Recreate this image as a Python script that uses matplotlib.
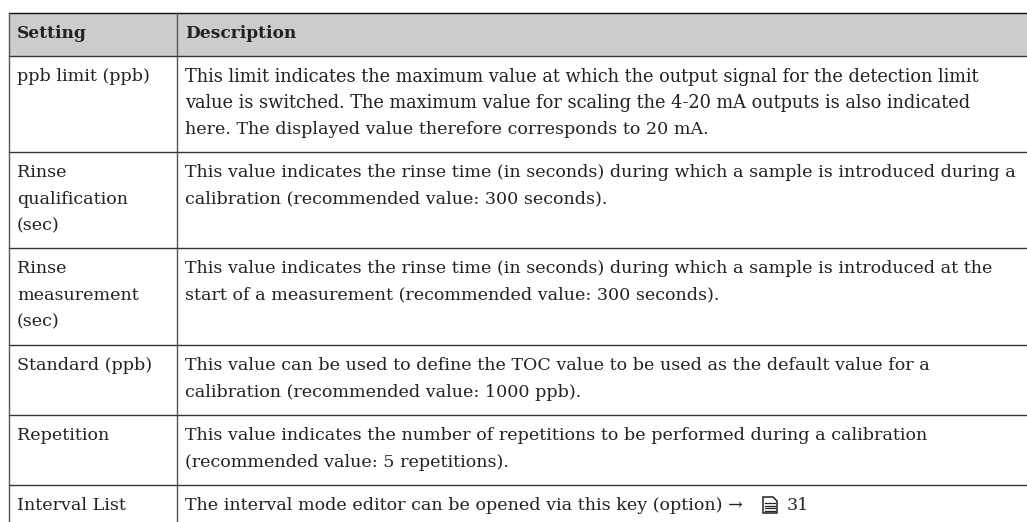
"""Settings table drawn as lines and text on one full-figure axes."""

import matplotlib

matplotlib.use("Agg")
import matplotlib.pyplot as plt
from matplotlib.patches import Polygon

WIDTH, HEIGHT = 1027, 522
SERIF = ["DejaVu Serif"]
TEXT_COLOR = "#222222"

headers = ["Setting", "Description"]
settings = [
    ["ppb limit (ppb)"],
    ["Rinse", "qualification", "(sec)"],
    ["Rinse", "measurement", "(sec)"],
    ["Standard (ppb)"],
    ["Repetition"],
    ["Interval List"],
]
descriptions = [
    [
        "This limit indicates the maximum value at which the output signal for the detection limit",
        "value is switched. The maximum value for scaling the 4-20 mA outputs is also indicated",
        "here. The displayed value therefore corresponds to 20 mA.",
    ],
    [
        "This value indicates the rinse time (in seconds) during which a sample is introduced during a",
        "calibration (recommended value: 300 seconds).",
    ],
    [
        "This value indicates the rinse time (in seconds) during which a sample is introduced at the",
        "start of a measurement (recommended value: 300 seconds).",
    ],
    [
        "This value can be used to define the TOC value to be used as the default value for a",
        "calibration (recommended value: 1000 ppb).",
    ],
    [
        "This value indicates the number of repetitions to be performed during a calibration",
        "(recommended value: 5 repetitions).",
    ],
    ["The interval mode editor can be opened via this key (option) \u2192"],
]
page_ref = "31"
row_lines = [56, 152, 248, 345, 415, 485]

LEFT, MID = 9, 177
TOP = 13
LINE_H = 26.7
FONT_SIZE = 12.6
HEADER_SIZE = 12.25
# the first two description lines run a bit wider in the reference font
WIDE_LINE_SIZE = 12.82


def draw_page_icon(ax, x0, y0, x1, y1):
    # no installed font has the page symbol, so draw it
    ax.add_patch(
        Polygon(
            [(x0, y0), (x1 - 4, y0), (x1, y0 + 4), (x1, y1), (x0, y1)],
            closed=True, fc="white", ec="#222222", lw=1.1,
        )
    )
    for y in [y0 + 6, y0 + 8.5, y0 + 11, y0 + 13.5]:
        ax.plot([x0 + 2, x1 - 2], [y, y], color="#222222", lw=0.9)


fig = plt.figure(figsize=(WIDTH / 100, HEIGHT / 100), dpi=100)
ax = fig.add_axes([0, 0, 1, 1])
ax.set_xlim(0, WIDTH)
ax.set_ylim(HEIGHT, 0)
ax.axis("off")

ax.fill_between([LEFT, WIDTH], TOP, row_lines[0], color="#cccccc", lw=0)
ax.plot([LEFT, WIDTH], [TOP, TOP], color="#111111", lw=1)
for y in row_lines:
    ax.plot([LEFT, WIDTH], [y, y], color="#333333", lw=1)
for x in [LEFT, MID]:
    ax.plot([x, x], [TOP, HEIGHT], color="#555555", lw=1)

for x, label in zip([17, 185], headers):
    ax.text(x, 33, label, fontsize=HEADER_SIZE, family=SERIF, weight="bold", color=TEXT_COLOR, va="center")

for r, (top, left_lines, right_lines) in enumerate(zip(row_lines, settings, descriptions)):
    for i, line in enumerate(left_lines):
        ax.text(17, top + 20.5 + i * LINE_H, line, fontsize=FONT_SIZE, family=SERIF, color=TEXT_COLOR, va="center")
    for i, line in enumerate(right_lines):
        size = WIDE_LINE_SIZE if r == 0 and i < 2 else FONT_SIZE
        ax.text(185, top + 20.5 + i * LINE_H, line, fontsize=size, family=SERIF, color=TEXT_COLOR, va="center")

draw_page_icon(ax, 763, 497, 777, 513)
ax.text(787, row_lines[-1] + 20.5, page_ref, fontsize=FONT_SIZE, family=SERIF, color=TEXT_COLOR, va="center")

fig.savefig("out.png", dpi=100)
